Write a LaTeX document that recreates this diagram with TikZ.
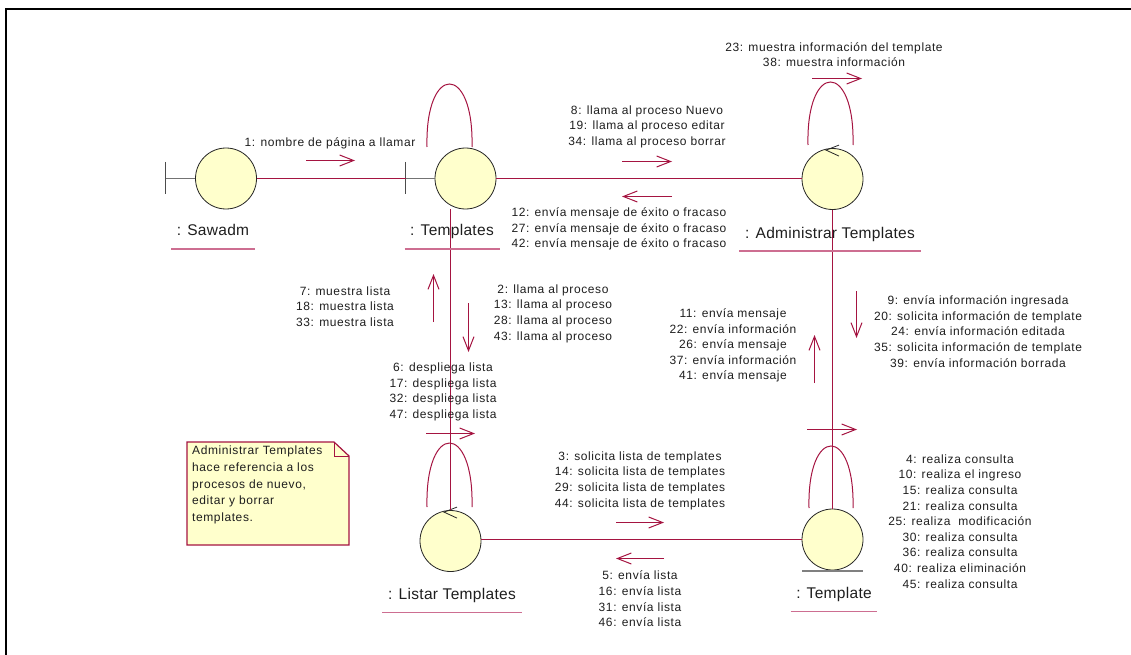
\documentclass[tikz,border=0pt]{standalone}
\usepackage{fontspec}
\setmainfont{Liberation Sans}
\newfontfamily\msgfont[LetterSpace=5]{Liberation Sans}
\newfontfamily\namefont[LetterSpace=2]{Liberation Sans}
\usetikzlibrary{arrows.meta,calc}
\definecolor{linkred}{RGB}{165,20,65}
\definecolor{ulpink}{RGB}{205,110,145}
\definecolor{objfill}{RGB}{255,255,204}
\definecolor{txt}{RGB}{30,30,30}
\begin{document}
\begin{tikzpicture}[x=1pt,y=-1pt,
  obj/.style={circle,draw=black!85,fill=objfill,minimum size=61pt,inner sep=0pt,line width=0.8pt},
  link/.style={draw=linkred,line width=1pt},
  msg/.style={draw=linkred,line width=1pt,-{Straight Barb[length=14pt,width=11pt]}},
  lbl/.style={font=\msgfont\fontsize{12}{15.6}\selectfont,align=center,inner sep=0pt,text=txt},
  objname/.style={font=\namefont\fontsize{15.5}{18}\selectfont,inner xsep=5.5pt,inner ysep=0pt,text height=11pt,text depth=3pt,text=txt},
  uline/.style={draw=ulpink,line width=1.3pt},
  ctrl/.style={draw=black!85,line width=0.8pt},
  bnd/.style={draw=black!70,line width=1pt},
  stub/.style={draw=black!55,line width=1pt}]

\useasboundingbox (0,0) rectangle (1131,655);
\draw[line width=2.2pt] (6,655) -- (6,9) -- (1131,9);

% objects
\node[obj] (saw) at (226,178.5) {};
\node[obj] (tpl) at (465.5,178.5) {};
\node[obj] (adm) at (832.5,179) {};
\node[obj] (lst) at (450.5,541) {};
\node[obj] (ent) at (832.5,539.5) {};

% boundary bars
\coordinate (sawbar) at (165.5,178.5);
\coordinate (tplbar) at (405.5,178.5);
\draw[bnd] (165.5,162) -- (165.5,194);
\draw[stub] (sawbar) -- (saw.west);
\draw[bnd] (405.5,162) -- (405.5,194);
\draw[stub] (tplbar) -- (tpl.west);

% entity base line
\draw[draw=black!50,line width=2pt] ($(ent.south)+(-30.5,1)$) -- ($(ent.south)+(30.5,1)$);

% control arrows
\draw[ctrl] ([shift={(6.5,-3)}]adm.north) -- ([shift={(-6.5,2)}]adm.north) -- ([shift={(6.5,8)}]adm.north);
\draw[ctrl] ([shift={(6.5,-3)}]lst.north) -- ([shift={(-6.5,2)}]lst.north) -- ([shift={(6.5,8)}]lst.north);

% links
\draw[link] (saw.east) -- (tplbar);
\draw[link] (tpl.east) -- (tpl.east -| adm.west);
\draw[link] (tpl.south -| lst.north) -- (lst.north);
\draw[link] (adm.south) -- (ent.north);
\draw[link] (ent.west -| lst.east) -- (ent.west);

% self links
\draw[link] (427,147) .. controls (425,63) and (474,63) .. (472,147);
\draw[link] (808,145) .. controls (806,61) and (855,61) .. (853,145);
\draw[link] (427,507) .. controls (425,421.7) and (474,421.7) .. (472,507);
\draw[link] (809,508) .. controls (807,425.3) and (855,425.3) .. (853,508);

% object names
\node[objname] (sawN) at (213,231.5) {: Sawadm};
\draw[uline] ($(sawN.west)+(0,17.5)$) -- ($(sawN.east)+(0,17.5)$);
\node[objname] (tplN) at (452,231.5) {: Templates};
\draw[uline] ($(tplN.west)+(0,17.5)$) -- ($(tplN.east)+(0,17.5)$);
\node[objname] (admN) at (830,234) {: Administrar Templates};
\draw[uline] ($(admN.west)+(0,17)$) -- ($(admN.east)+(0,17)$);
\node[objname] (lstN) at (452,595.5) {: Listar Templates};
\draw[uline] ($(lstN.west)+(0,17)$) -- ($(lstN.east)+(0,17)$);
\node[objname] (entN) at (834,594.5) {: Template};
\draw[uline] ($(entN.west)+(0,17)$) -- ($(entN.east)+(0,17)$);

% messages
\node[lbl] (m1) at (330,143) {1: nombre de página a llamar};
\draw[msg] (306,160.5) -- (355,160.5);

\node[lbl] (m8) at (647,126.5) {8: llama al proceso Nuevo\\19: llama al proceso editar\\34: llama al proceso borrar};
\draw[msg] (622,161.5) -- (672,161.5);

\node[lbl] (m12) at (619,229) {12: envía mensaje de éxito o fracaso\\27: envía mensaje de éxito o fracaso\\42: envía mensaje de éxito o fracaso};
\draw[msg] (672,196.5) -- (622,196.5);

\node[lbl] (m23) at (834,54.5) {23: muestra información del template\\38: muestra información};
\draw[msg] (812,78.5) -- (862,78.5);

\node[lbl] (m7) at (345,306.5) {7: muestra lista\\18: muestra lista\\33: muestra lista};
\draw[msg] (433.5,322) -- (433.5,274);

\node[lbl] (m2) at (553,313.5) {2: llama al proceso\\13: llama al proceso\\28: llama al proceso\\43: llama al proceso};
\draw[msg] (468.5,303) -- (468.5,352);

\node[lbl] (m6) at (443,392) {6: despliega lista\\17: despliega lista\\32: despliega lista\\47: despliega lista};
\draw[msg] (426,433.5) -- (475,433.5);

\node[lbl] (m3) at (640,480.5) {3: solicita lista de templates\\14: solicita lista de templates\\29: solicita lista de templates\\44: solicita lista de templates};
\draw[msg] (616,522.5) -- (664,522.5);

\node[lbl] (m5) at (640,599) {5: envía lista\\16: envía lista\\31: envía lista\\46: envía lista};
\draw[msg] (664,558.5) -- (616,558.5);

\node[lbl] (m11) at (733,345.5) {11: envía mensaje\\22: envía información\\26: envía mensaje\\37: envía información\\41: envía mensaje};
\draw[msg] (814.5,383) -- (814.5,335);

\node[lbl] (m9) at (978,331.5) {9: envía información ingresada\\20: solicita información de template\\24: envía información editada\\35: solicita información de template\\39: envía información borrada};
\draw[msg] (856.5,291) -- (856.5,338);

\node[lbl] (m4) at (960,521.5) {4: realiza consulta\\10: realiza el ingreso\\15: realiza consulta\\21: realiza consulta\\25: realiza\ \ modificación\\30: realiza consulta\\36: realiza consulta\\40: realiza eliminación\\45: realiza consulta};
\draw[msg] (807,429.5) -- (857,429.5);

% note
\draw[draw=linkred,fill=objfill,line width=1.2pt] (187,442) -- (334,442) -- (349,456) -- (349,545) -- (187,545) -- cycle;
\draw[draw=linkred,line width=1pt] (334,442) -- (334,456) -- (349,456);
\node[lbl,align=left,anchor=north west,font=\msgfont\fontsize{12}{16.6}\selectfont] (note) at (192,446)
  {Administrar Templates\\hace referencia a los\\procesos de nuevo,\\editar y borrar\\templates.};
\end{tikzpicture}
\end{document}
